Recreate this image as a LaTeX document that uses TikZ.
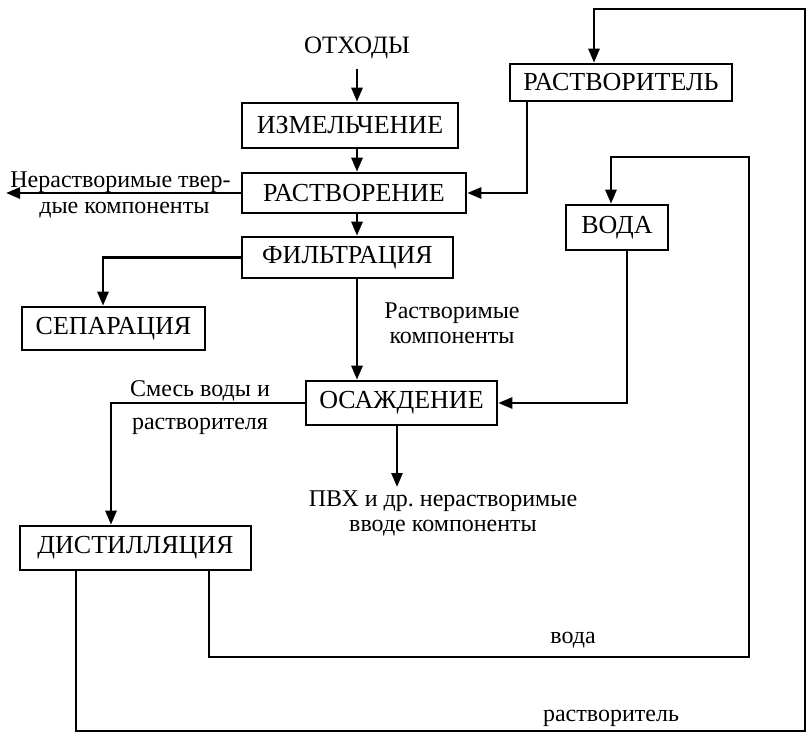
\documentclass[tikz,border=0pt]{standalone}
\usepackage{fontspec}
\setmainfont{Liberation Serif}
\usetikzlibrary{arrows.meta}
\begin{document}
\begin{tikzpicture}[x=0.5pt,y=-0.5pt,
  box/.style={draw, line width=1.3pt, inner sep=0pt, font=\fontsize{13}{14}\selectfont},
  lbl/.style={inner sep=0pt, font=\fontsize{12}{12.5}\selectfont, align=center},
  flow/.style={line width=1.3pt, -{Triangle[length=7pt,width=5.5pt]}},
  pipe/.style={line width=1.3pt}]
\useasboundingbox (0,0) rectangle (808,734);

% process boxes
\node[box, minimum width=108pt, minimum height=22.5pt] (izm) at (350,125.5) {ИЗМЕЛЬЧЕНИЕ};
\node[box, minimum width=112pt, minimum height=20pt] (rast) at (354,193) {РАСТВОРЕНИЕ};
\node[box, minimum width=105.5pt, minimum height=20.5pt] (filt) at (347.5,257.5) {ФИЛЬТРАЦИЯ};
\node[box, minimum width=111pt, minimum height=18.5pt] (solv) at (621,82.5) {РАСТВОРИТЕЛЬ};
\node[box, minimum width=51pt, minimum height=22.5pt] (voda) at (617,227.5) {ВОДА};
\node[box, minimum width=95.5pt, minimum height=22pt] (osazh) at (401.5,403) {ОСАЖДЕНИЕ};
\node[box, minimum width=91.5pt, minimum height=21.5pt] (sep) at (113.5,328.5) {СЕПАРАЦИЯ};
\node[box, minimum width=115.5pt, minimum height=22pt] (dist) at (135.5,548) {ДИСТИЛЛЯЦИЯ};

% free texts
\node[inner sep=0pt, font=\fontsize{12.5}{14}\selectfont] (otx) at (357,48) {ОТХОДЫ};
\node[lbl, anchor=west] (insolA) at (10,182) {Нерастворимые твер-};
\node[lbl, anchor=west] (insolB) at (39,210) {дые компоненты};
\node[lbl] (soluble) at (452,323) {Растворимые\\компоненты};
\node[lbl] (mixA) at (200,391) {Смесь воды и};
\node[lbl] (mixB) at (200,426) {растворителя};
\node[lbl] (pvc) at (443,513) {ПВХ и др.\ нерастворимые\\вводе компоненты};
\node[lbl] (wlab) at (573,640) {вода};
\node[lbl] (slab) at (611,718) {растворитель};

% route coordinates
\coordinate (insolEnd) at (6,193);
\coordinate (solvDown) at (527,0);
\coordinate (sepX) at (103,0);
\coordinate (distX) at (111,0);
\coordinate (vodaDown) at (627,0);
\coordinate (pvcTip) at (397,487);
\coordinate (wOut) at (209,0);
\coordinate (wBot) at (749,657);
\coordinate (wTop) at (611,157);
\coordinate (sOut) at (76,0);
\coordinate (sBotL) at (76,731);
\coordinate (sBotR) at (805,731);
\coordinate (sTopR) at (805,9);
\coordinate (sTopL) at (594,9);

% main line
\draw[flow, shorten <=5pt] (otx.south) -- (izm.north -| otx);
\draw[flow] (izm.south -| otx) -- (rast.north -| otx);
\draw[flow] (rast.south -| otx) -- (filt.north -| otx);
\draw[flow] (filt.south -| otx) -- (osazh.north -| otx);

% side streams
\draw[flow] (rast.west) -- (insolEnd);
\draw[flow] (solv.south -| solvDown) |- (rast.east);
\draw[flow] (filt.west) -| (sep.north -| sepX);
\draw[flow] (osazh.west) -| (dist.north -| distX);
\draw[flow] (voda.south -| vodaDown) |- (osazh.east);
\draw[flow] (osazh.south -| pvcTip) -- (pvcTip);

% recycle loops
\draw[flow] (dist.south -| wOut) |- (wBot) |- (wTop) -- (voda.north -| wTop);
\draw[flow] (dist.south -| sOut) -- (sBotL) -- (sBotR) -- (sTopR) -- (sTopL) -- (solv.north -| sTopL);
\end{tikzpicture}
\end{document}
